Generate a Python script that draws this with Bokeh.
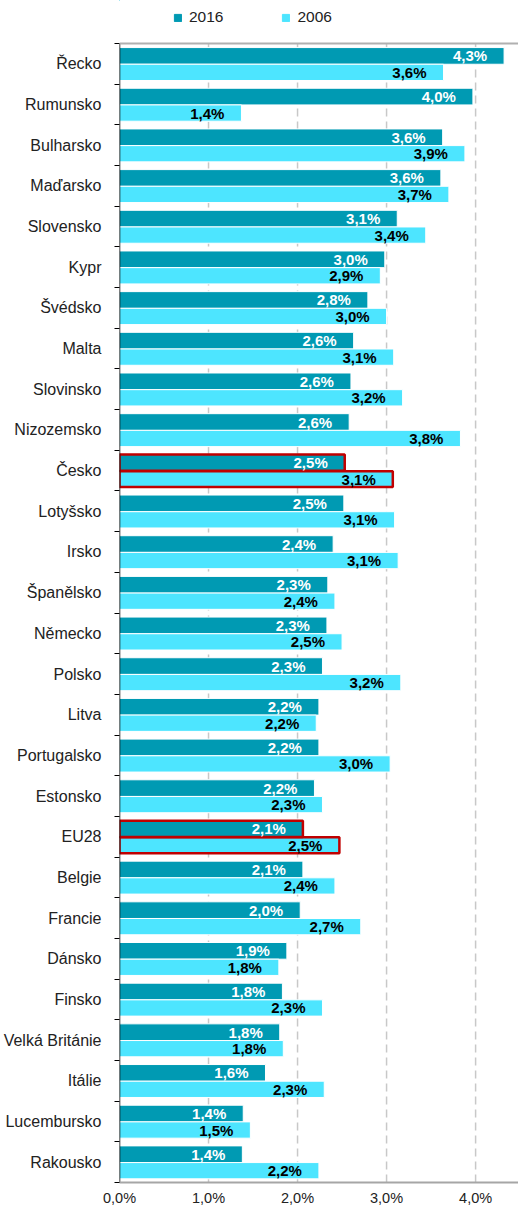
from bokeh.plotting import figure
from bokeh.models import (ColumnDataSource, Range1d, FixedTicker, Legend, LegendItem, Span, LabelSet)
from bokeh.core.properties import value
from bokeh.embed import file_html
from bokeh.resources import INLINE

countries = ["Řecko", "Rumunsko", "Bulharsko", "Maďarsko", "Slovensko", "Kypr", "Švédsko", "Malta",
             "Slovinsko", "Nizozemsko", "Česko", "Lotyšsko", "Irsko", "Španělsko", "Německo", "Polsko",
             "Litva", "Portugalsko", "Estonsko", "EU28", "Belgie", "Francie", "Dánsko", "Finsko",
             "Velká Británie", "Itálie", "Lucembursko", "Rakousko"]
v2016 = [4.32, 3.97, 3.63, 3.61, 3.12, 2.98, 2.79, 2.63, 2.60, 2.58, 2.53, 2.52, 2.40, 2.34, 2.33, 2.28,
         2.24, 2.24, 2.19, 2.06, 2.06, 2.03, 1.88, 1.83, 1.80, 1.64, 1.39, 1.38]
v2006 = [3.64, 1.37, 3.88, 3.70, 3.44, 2.93, 3.00, 3.08, 3.18, 3.83, 3.07, 3.09, 3.13, 2.42, 2.50, 3.16,
         2.21, 3.04, 2.28, 2.47, 2.42, 2.71, 1.79, 2.28, 1.84, 2.30, 1.47, 2.24]
highlight = ["Česko", "EU28"]
x_ticks = [0, 1, 2, 3, 4]
x_tick_labels = ["0,0%", "1,0%", "2,0%", "3,0%", "4,0%"]

C2016 = "#009AB3"
C2006 = "#4DE5FF"
FONT = "Liberation Sans"

n = len(countries)
idx = list(range(n))

def fmt(v):
    return f"{v:.1f}".replace(".", ",") + "%"

src16 = ColumnDataSource(dict(y=[i + 0.305 for i in idx], right=v2016, lab=[fmt(v) for v in v2016]))
src06 = ColumnDataSource(dict(y=[i + 0.71 for i in idx], right=v2006, lab=[fmt(v) for v in v2006]))

W, H = 518, 1209
TOP, BOTTOM, LEFT = 43, 27, 118
band_px = (H - TOP - BOTTOM) / n
top_extra = TOP / band_px

p = figure(width=W, height=H, output_backend="svg", toolbar_location=None,
           x_range=Range1d(0, 4.482), y_range=Range1d(n, -top_extra),
           min_border_left=LEFT, min_border_right=0, min_border_top=0, min_border_bottom=BOTTOM)
p.outline_line_color = None
p.background_fill_color = "white"
p.xgrid.grid_line_color = None
p.ygrid.grid_line_color = None

# dashed vertical grid lines (within the plot box only)
grid_x = x_ticks[1:]
p.segment(x0=grid_x, y0=[0] * len(grid_x), x1=grid_x, y1=[n] * len(grid_x),
          line_color="#c8c8c8", line_width=1.5, line_dash="8 5")

r16 = p.hbar(y="y", left=0, right="right", height=0.41, source=src16,
             fill_color=C2016, line_color="white", line_width=1)
r06 = p.hbar(y="y", left=0, right="right", height=0.40, source=src06,
             fill_color=C2006, line_color="white", line_width=1)

# legend swatches (same colours, no white edge)
l16 = p.hbar(y=[-10], left=0, right=0, height=0.1, fill_color=C2016, line_color=C2016)
l06 = p.hbar(y=[-10], left=0, right=0, height=0.1, fill_color=C2006, line_color=C2006)

# highlighted bars
hi = [countries.index(c) for c in highlight]
srch16 = ColumnDataSource(dict(y=[i + 0.305 for i in hi], right=[v2016[i] for i in hi]))
srch06 = ColumnDataSource(dict(y=[i + 0.71 for i in hi], right=[v2006[i] for i in hi]))
p.hbar(y="y", left=0, right="right", height=0.40, source=srch16,
       fill_color=None, line_color="#C00000", line_width=2.5)
p.hbar(y="y", left=0, right="right", height=0.39, source=srch06,
       fill_color=None, line_color="#C00000", line_width=2.5)

# value labels
p.add_layout(LabelSet(x="right", y="y", text="lab", source=src16, x_offset=-17, y_offset=0,
                      text_align="right", text_baseline="middle", text_color="white",
                      text_font=value(FONT), text_font_size="15px", text_font_style="bold"))
p.add_layout(LabelSet(x="right", y="y", text="lab", source=src06, x_offset=-17, y_offset=0,
                      text_align="right", text_baseline="middle", text_color="black",
                      text_font=value(FONT), text_font_size="15px", text_font_style="bold"))

# top border of plot box
p.add_layout(Span(location=0, dimension="width", line_color="#b0b0b0", line_width=2))
# left axis line (plot box only)
p.segment(x0=[0], y0=[0], x1=[0], y1=[n], line_color="black", line_width=1.5)

# y axis
ya = p.yaxis[0]
ya.ticker = FixedTicker(ticks=[i + 0.5 for i in idx], minor_ticks=list(range(n + 1)))
ya.major_label_overrides = {i + 0.5: c for i, c in enumerate(countries)}
ya.major_tick_line_color = None
ya.major_tick_out = 0
ya.major_tick_in = 0
ya.minor_tick_line_color = "black"
ya.minor_tick_out = 5
ya.minor_tick_in = 0
ya.axis_line_color = None
ya.major_label_text_font = FONT
ya.major_label_text_font_size = "16px"
ya.major_label_text_color = "#222222"
ya.major_label_standoff = 13

# x axis
xa = p.xaxis[0]
xa.ticker = FixedTicker(ticks=x_ticks)
xa.major_label_overrides = {t: l for t, l in zip(x_ticks, x_tick_labels)}
xa.major_tick_line_color = None
xa.major_tick_out = 0
xa.major_tick_in = 0
xa.minor_tick_line_color = None
xa.axis_line_color = "#a6a6a6"
xa.axis_line_width = 2
xa.major_label_text_font = FONT
xa.major_label_text_font_size = "14.5px"
xa.major_label_text_color = "#222222"
xa.major_label_standoff = 7

frame_h = H - BOTTOM
legend = Legend(items=[LegendItem(label="2016", renderers=[l16]), LegendItem(label="2006", renderers=[l06])],
                orientation="horizontal", location=(54, frame_h - 26), padding=0, margin=0,
                glyph_width=9, glyph_height=9, label_standoff=7, spacing=58,
                label_text_font=FONT, label_text_font_size="15.5px", label_text_color="#222222",
                background_fill_alpha=0, border_line_color=None, label_height=14)
p.add_layout(legend, "center")

open("out.html", "w").write(file_html(p, INLINE))
